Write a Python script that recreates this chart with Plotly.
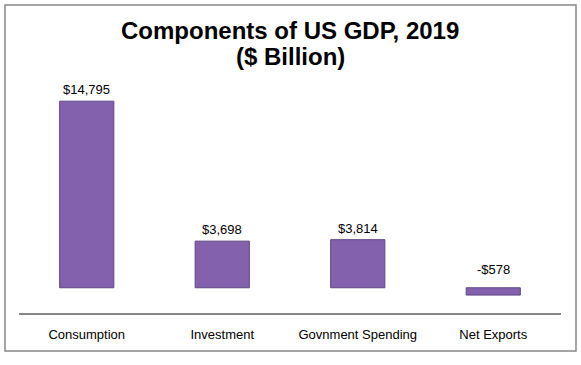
import plotly.graph_objects as go

categories = ["Consumption", "Investment", "Govnment Spending", "Net Exports"]
values = [14795, 3698, 3814, -578]
title_lines = ["Components of US GDP, 2019", "($ Billion)"]

def fmt(v):
    return ("-" if v < 0 else "") + "${:,}".format(abs(v))

W, H = 581, 365
L, R, T, B = 19, 20, 86, 52
pw, ph = W - L - R, H - T - B

def py(ypx):
    return (T + ph - ypx) / ph

FONT = "Liberation Sans, Arial"

fig = go.Figure()
fig.add_trace(go.Bar(
    x=categories, y=values,
    marker=dict(color="#8461AD", line=dict(color="#5E4683", width=1)),
    width=0.4, hoverinfo="skip",
))

for c, v in zip(categories, values):
    fig.add_annotation(
        x=c, y=max(v, 0), text=fmt(v), showarrow=False,
        yanchor="bottom", yshift=2 if v >= 0 else 9,
        font=dict(family=FONT, size=13, color="#000000"),
    )

# title lines
for i, line in enumerate(title_lines):
    fig.add_annotation(
        xref="paper", yref="paper", x=(290 - L) / pw, y=py(30 + 27 * i),
        text="<b>" + line + "</b>", showarrow=False,
        xanchor="center", yanchor="middle",
        font=dict(family=FONT, size=24, color="#000000"),
    )

# outer chart frame
fig.add_shape(
    type="rect", xref="paper", yref="paper",
    x0=(5 - L) / pw, x1=(576 - L) / pw,
    y0=py(351), y1=py(5),
    line=dict(color="#878787", width=1.5), fillcolor="rgba(0,0,0,0)", layer="below",
)

fig.update_layout(
    width=W, height=H,
    margin=dict(l=L, r=R, t=T, b=B),
    paper_bgcolor="white", plot_bgcolor="white",
    showlegend=False,
    xaxis=dict(
        showline=True, linecolor="#868686", linewidth=1.5,
        showgrid=False, ticks="", ticklabelstandoff=9,
        tickfont=dict(family=FONT, size=13, color="#000000"),
        fixedrange=True,
    ),
    yaxis=dict(
        range=[-2000, 16000], visible=False, showgrid=False, zeroline=False,
        fixedrange=True,
    ),
)

fig.write_html(
    "out.html",
    config={"displayModeBar": False},
    post_script="document.body.style.margin='0';document.body.style.overflow='hidden';",
)
